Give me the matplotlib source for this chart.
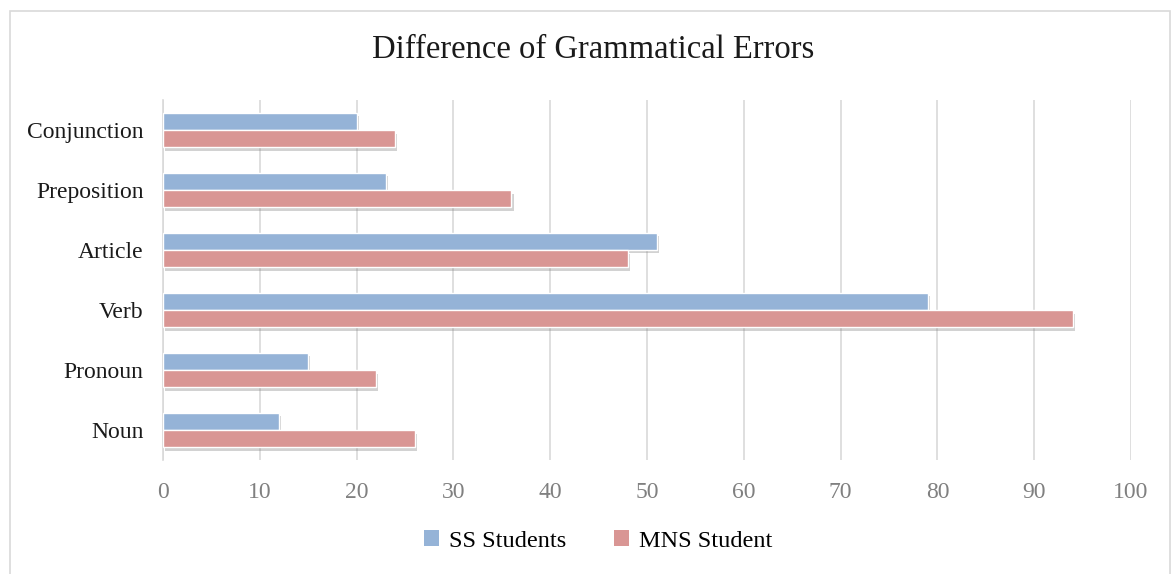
import matplotlib.pyplot as plt
import matplotlib.patheffects as pe
from matplotlib.patches import Rectangle, Patch
import numpy as np

# data
categories = ["Noun", "Pronoun", "Verb", "Article", "Preposition", "Conjunction"]
ss_students = [12, 15, 79, 51, 23, 20]
mns_student = [26, 22, 94, 48, 36, 24]

blue = "#95B3D7"
red = "#D99694"

plt.rcParams["font.family"] = ["Liberation Serif", "DejaVu Serif"]

fig = plt.figure(figsize=(11.73, 5.74), dpi=100)
ax = fig.add_axes([163 / 1173, 1 - 460 / 574, (1131 - 163) / 1173, 360 / 574])

# light frame round the chart area
fig.patches.append(Rectangle((10 / 1173, -0.1), 1160 / 1173, 1.1 - 11 / 574,
                             transform=fig.transFigure, fill=False,
                             edgecolor="#D9D9D9", linewidth=1.2))

y = np.arange(len(categories))
h = 0.28
shadow = [pe.SimplePatchShadow(offset=(1.5, -2.5), shadow_rgbFace="#808080", alpha=0.35), pe.Normal()]

ax.barh(y + 0.145, ss_students, height=h, color=blue, edgecolor="white",
        linewidth=1.0, path_effects=shadow, zorder=3)
ax.barh(y - 0.145, mns_student, height=h, color=red, edgecolor="white",
        linewidth=1.0, path_effects=shadow, zorder=3)

ax.set_xlim(0, 100)
ax.set_ylim(-0.5, len(categories) - 0.5)
ax.set_xticks(range(0, 101, 10))
ax.set_yticks(y)
ax.set_yticklabels(categories)

ax.grid(axis="x", color="#D9D9D9", linewidth=1.2, zorder=0)
for s in ["top", "right", "bottom"]:
    ax.spines[s].set_visible(False)
ax.spines["left"].set_color("#D9D9D9")
ax.spines["left"].set_linewidth(1.2)

ax.tick_params(axis="x", length=0, labelsize=17, labelcolor="#808080", pad=16)
ax.tick_params(axis="y", length=0, labelsize=17, labelcolor="#1a1a1a", pad=14)

fig.text(0.506, 1 - 50 / 574, "Difference of Grammatical Errors", ha="center",
         va="center", fontsize=23.5, color="#1a1a1a")

handles = [Patch(facecolor=blue, label="SS Students"),
           Patch(facecolor=red, label="MNS Student")]
fig.legend(handles=handles, loc="center", bbox_to_anchor=(0.51, 1 - 541 / 574), ncol=2,
           frameon=False, fontsize=17.5, handlelength=0.6, handleheight=0.6,
           columnspacing=2.0, handletextpad=0.4)

fig.savefig("out.png", dpi=100, facecolor="white")
